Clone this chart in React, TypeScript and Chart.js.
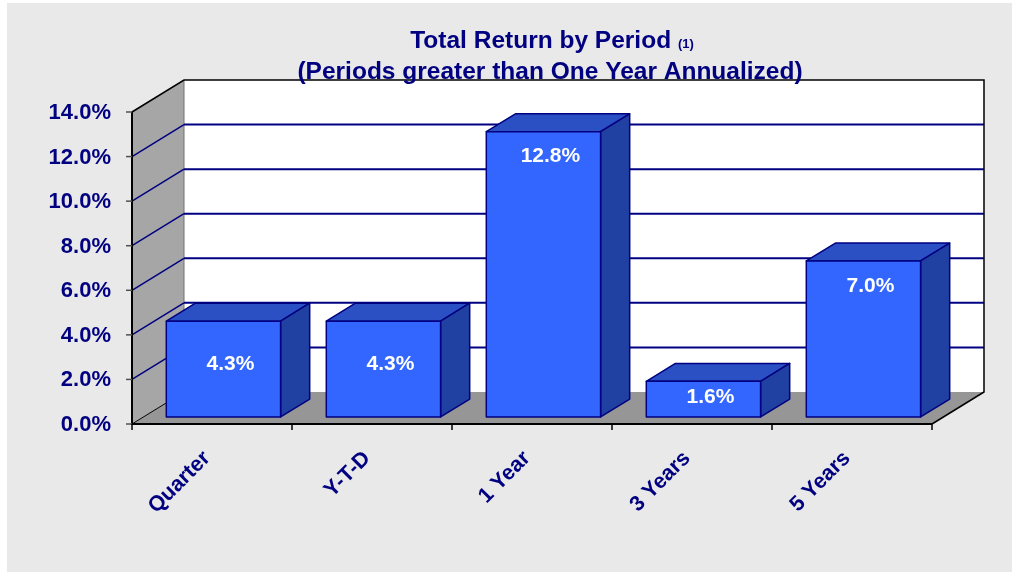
import React, { useEffect, useRef } from "react";
import { Chart, registerables } from "chart.js";

Chart.register(...registerables);

const categories = ["Quarter", "Y-T-D", "1 Year", "3 Years", "5 Years"];
const returns = [4.3, 4.3, 12.8, 1.6, 7.0];
const yTicks = [0, 2, 4, 6, 8, 10, 12, 14];
const titleLine1 = "Total Return by Period";
const titleNote = "(1)";
const titleLine2 = "(Periods greater than One Year Annualized)";

const FONT = '"Liberation Sans", Arial, sans-serif';
const NAVY = "#000080";
const DX = 52;
const DY = -32;
const F1 = 0.22;
const F2 = 0.78;

const threeD = {
  id: "threeD",
  beforeDraw(chart: any) {
    const ctx = chart.ctx;
    const xs = chart.scales.x;
    const ys = chart.scales.y;
    ctx.save();
    ctx.fillStyle = "#ffffff";
    ctx.fillRect(0, 0, chart.width, chart.height);
    ctx.fillStyle = "#E9E9E9";
    ctx.fillRect(7, 3, 1005, 569);

    const L = xs.left;
    const R = xs.right;
    const T = ys.getPixelForValue(yTicks[yTicks.length - 1]);
    const B = ys.getPixelForValue(0);

    // back wall
    ctx.fillStyle = "#ffffff";
    ctx.fillRect(L + DX, T + DY, R - L, B - T);
    // side wall
    ctx.fillStyle = "#A6A6A6";
    ctx.beginPath();
    ctx.moveTo(L, T);
    ctx.lineTo(L + DX, T + DY);
    ctx.lineTo(L + DX, B + DY);
    ctx.lineTo(L, B);
    ctx.closePath();
    ctx.fill();
    // floor
    ctx.fillStyle = "#969696";
    ctx.beginPath();
    ctx.moveTo(L, B);
    ctx.lineTo(R, B);
    ctx.lineTo(R + DX, B + DY);
    ctx.lineTo(L + DX, B + DY);
    ctx.closePath();
    ctx.fill();

    // back-wall left edge
    ctx.strokeStyle = "#707070";
    ctx.lineWidth = 1;
    ctx.beginPath();
    ctx.moveTo(L + DX, T + DY);
    ctx.lineTo(L + DX, B + DY);
    ctx.stroke();

    // gridlines
    yTicks.slice(1, -1).forEach((v) => {
      const y = ys.getPixelForValue(v);
      ctx.strokeStyle = NAVY;
      ctx.lineWidth = 2;
      ctx.beginPath();
      ctx.moveTo(L + DX, y + DY);
      ctx.lineTo(R + DX, y + DY);
      ctx.stroke();
      ctx.lineWidth = 1.5;
      ctx.beginPath();
      ctx.moveTo(L, y);
      ctx.lineTo(L + DX, y + DY);
      ctx.stroke();
    });

    // edges
    ctx.strokeStyle = "#000000";
    ctx.lineWidth = 1.5;
    ctx.beginPath();
    ctx.moveTo(L, T);
    ctx.lineTo(L + DX, T + DY);
    ctx.lineTo(R + DX, T + DY);
    ctx.lineTo(R + DX, B + DY);
    ctx.lineTo(R, B);
    ctx.stroke();
    ctx.lineWidth = 1;
    ctx.beginPath();
    ctx.moveTo(L, B);
    ctx.lineTo(L + DX, B + DY);
    ctx.stroke();
    ctx.lineWidth = 2;
    ctx.beginPath();
    ctx.moveTo(L, T);
    ctx.lineTo(L, B);
    ctx.lineTo(R, B);
    ctx.stroke();

    // y ticks
    ctx.strokeStyle = "#505050";
    ctx.lineWidth = 1.5;
    yTicks.forEach((v) => {
      const y = ys.getPixelForValue(v);
      ctx.beginPath();
      ctx.moveTo(L - 6, y);
      ctx.lineTo(L, y);
      ctx.stroke();
    });
    // x ticks
    ctx.strokeStyle = "#000000";
    ctx.lineWidth = 1.5;
    const n = categories.length;
    const cw = (R - L) / n;
    for (let i = 0; i <= n; i++) {
      const x = L + i * cw;
      ctx.beginPath();
      ctx.moveTo(x, B);
      ctx.lineTo(x, B + 6);
      ctx.stroke();
    }
    ctx.restore();
  },
  afterDatasetsDraw(chart: any) {
    const ctx = chart.ctx;
    const ys = chart.scales.y;
    const meta = chart.getDatasetMeta(0);
    const y0 = ys.getPixelForValue(0);
    const fx = DX * F1;
    const fy = DY * F1;
    const ddx = DX * (F2 - F1);
    const ddy = DY * (F2 - F1);
    ctx.save();
    meta.data.forEach((bar: any, i: number) => {
      const p = bar.getProps(["x", "y", "width"], true);
      const x1 = p.x - p.width / 2 + fx;
      const x2 = p.x + p.width / 2 + fx;
      const top = p.y + fy;
      const bottom = y0 + fy;
      ctx.lineWidth = 1.5;
      ctx.strokeStyle = NAVY;
      ctx.lineJoin = "round";
      // top face
      ctx.fillStyle = "#2A50C4";
      ctx.beginPath();
      ctx.moveTo(x1, top);
      ctx.lineTo(x2, top);
      ctx.lineTo(x2 + ddx, top + ddy);
      ctx.lineTo(x1 + ddx, top + ddy);
      ctx.closePath();
      ctx.fill();
      ctx.stroke();
      // side face
      ctx.fillStyle = "#2040A2";
      ctx.beginPath();
      ctx.moveTo(x2, top);
      ctx.lineTo(x2 + ddx, top + ddy);
      ctx.lineTo(x2 + ddx, bottom + ddy);
      ctx.lineTo(x2, bottom);
      ctx.closePath();
      ctx.fill();
      ctx.stroke();
      // front face
      ctx.fillStyle = "#3366FF";
      ctx.beginPath();
      ctx.rect(x1, top, x2 - x1, bottom - top);
      ctx.fill();
      ctx.stroke();
      // label
      const h = bottom - top;
      const ly = h < 120 ? top + 0.45 * h : top + 25;
      ctx.fillStyle = "#ffffff";
      ctx.font = `bold 21px ${FONT}`;
      ctx.textAlign = "center";
      ctx.textBaseline = "middle";
      ctx.fillText(returns[i].toFixed(1) + "%", (x1 + x2) / 2 + 7, ly);
    });
    ctx.restore();
  },
  afterDraw(chart: any) {
    const ctx = chart.ctx;
    const xs = chart.scales.x;
    const ys = chart.scales.y;
    const L = xs.left;
    const B = ys.getPixelForValue(0);
    ctx.save();
    ctx.fillStyle = NAVY;
    // y tick labels
    ctx.font = `bold 22px ${FONT}`;
    ctx.textAlign = "right";
    ctx.textBaseline = "middle";
    yTicks.forEach((v) => {
      ctx.fillText(v.toFixed(1) + "%", L - 21, ys.getPixelForValue(v) + 1);
    });
    // x labels
    ctx.font = `bold 21.5px ${FONT}`;
    categories.forEach((c, i) => {
      const cx = xs.getPixelForValue(i);
      ctx.save();
      ctx.translate(cx - 5, B + 31);
      ctx.rotate(-Math.PI / 4);
      ctx.textAlign = "right";
      ctx.textBaseline = "middle";
      ctx.fillText(c, 0, 0);
      ctx.restore();
    });
    // title
    ctx.textBaseline = "alphabetic";
    ctx.textAlign = "left";
    ctx.font = `bold 24.5px ${FONT}`;
    const w1 = ctx.measureText(titleLine1 + " ").width;
    ctx.font = `bold 13px ${FONT}`;
    const w2 = ctx.measureText(titleNote).width;
    const sx = 552 - (w1 + w2) / 2;
    ctx.font = `bold 24.5px ${FONT}`;
    ctx.fillText(titleLine1 + " ", sx, 48);
    ctx.font = `bold 13px ${FONT}`;
    ctx.fillText(titleNote, sx + w1, 48);
    ctx.font = `bold 24.5px ${FONT}`;
    ctx.textAlign = "center";
    ctx.fillText(titleLine2, 550, 79);
    ctx.restore();
  },
};

export default function App() {
  const ref = useRef<HTMLCanvasElement>(null);
  useEffect(() => {
    if (!ref.current) return;
    const chart = new Chart(ref.current, {
      type: "bar",
      data: {
        labels: categories,
        datasets: [
          {
            data: returns,
            backgroundColor: "rgba(0,0,0,0)",
            borderWidth: 0,
            categoryPercentage: 1,
            barPercentage: 1 / 1.4,
          },
        ],
      },
      options: {
        animation: false,
        responsive: false,
        devicePixelRatio: 1,
        layout: { padding: { left: 132, right: 81, top: 112, bottom: 149 } },
        plugins: { legend: { display: false }, tooltip: { enabled: false }, title: { display: false } },
        scales: {
          x: { display: false, offset: true },
          y: { display: false, min: 0, max: 14 },
        },
      },
      plugins: [threeD],
    });
    return () => chart.destroy();
  }, []);
  return (
    <div style={{ position: "fixed", left: 0, top: 0, width: 1013, height: 573 }}>
      <canvas ref={ref} width={1013} height={573} style={{ display: "block" }} />
    </div>
  );
}
